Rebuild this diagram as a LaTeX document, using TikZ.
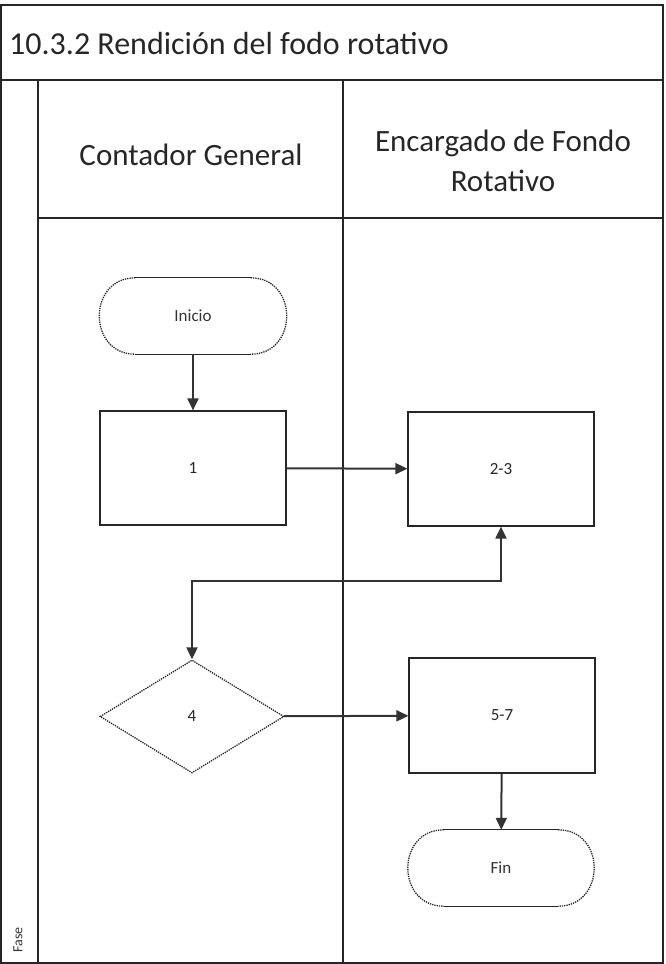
\documentclass[tikz,border=0pt]{standalone}
\usepackage{fontspec}
\setmainfont{Carlito}
\usetikzlibrary{shapes.geometric,arrows.meta}
\newcommand\termshape[1]{%
  \draw[line width=1.2pt,draw=black!85] ([xshift=36pt]#1.north west) -- ([xshift=-36pt]#1.north east);
  \draw[line width=1.2pt,draw=black!85] ([xshift=36pt]#1.south west) -- ([xshift=-36pt]#1.south east);
  \draw[line width=1.3pt,draw=black!85,densely dotted] ([xshift=36pt]#1.north west) .. controls ([xshift=-12pt]#1.north west) and ([xshift=-12pt]#1.south west) .. ([xshift=36pt]#1.south west);
  \draw[line width=1.3pt,draw=black!85,densely dotted] ([xshift=-36pt]#1.north east) .. controls ([xshift=12pt]#1.north east) and ([xshift=12pt]#1.south east) .. ([xshift=-36pt]#1.south east);
}
\begin{document}
\begin{tikzpicture}[x=1pt,y=-1pt,
  frameline/.style={line width=1.4pt, draw=black!85},
  termnode/.style={rectangle, draw=none, minimum width=187pt, minimum height=76pt, inner sep=0pt, text=black!80, font=\fontsize{17}{20}\selectfont},
  procbox/.style={rectangle, draw=black!85, line width=1.2pt, minimum width=186pt, minimum height=114pt, inner sep=0pt, text=black!85, font=\fontsize{17}{20}\selectfont},
  decision/.style={diamond, draw=black!85, densely dotted, line width=1.3pt, minimum width=184pt, minimum height=113pt, inner sep=0pt, text=black!85, font=\fontsize{17}{20}\selectfont},
  conn/.style={line width=2pt, draw=black!80, -{Triangle[length=12pt,width=11pt]}},
  headtext/.style={text=black!85, font=\fontsize{31}{40}\selectfont, align=center, inner sep=0pt},
]
\useasboundingbox (0,0) rectangle (665,964);
% frame
\draw[frameline] (1,5) rectangle (663,963);
\draw[frameline] (1,80) -- (663,80);
\draw[frameline] (38,80) -- (38,963);
\draw[frameline] (343,80) -- (343,963);
\draw[frameline] (38,218) -- (663,218);
% title and headers
\node[headtext, anchor=west, font=\fontsize{32}{40}\selectfont] (title) at (9,44) {10.3.2 Rendición del fodo rotativo};
\node[headtext] (h1) at (191,155) {Contador General};
\node[headtext] (h2) at (503,161) {Encargado de Fondo\\Rotativo};
\node[rotate=90, text=black!80, font=\fontsize{14}{16}\selectfont, inner sep=0pt] (fase) at (18,940) {Fase};
% nodes
\node[termnode] (ini) at (193,316) {Inicio};
\termshape{ini}
\node[procbox] (b1) at (193,468) {1};
\node[procbox] (b23) at (501,469) {2-3};
\node[decision] (d4) at (192,716.5) {4};
\node[procbox, minimum height=115pt] (b57) at (502,715.5) {5-7};
\node[termnode, minimum width=186pt] (fin) at (501,868) {Fin};
\termshape{fin}
% connectors
\draw[conn] (ini) -- (b1);
\draw[conn] (b1) -- (b23);
\draw[conn, {Triangle[length=12pt,width=11pt]}-{Triangle[length=12pt,width=11pt]}] (d4.north) -- ++(0,-78) -| (b23.south);
\draw[conn] (d4) -- (b57);
\draw[conn] (b57) -- (fin);
\end{tikzpicture}
\end{document}
